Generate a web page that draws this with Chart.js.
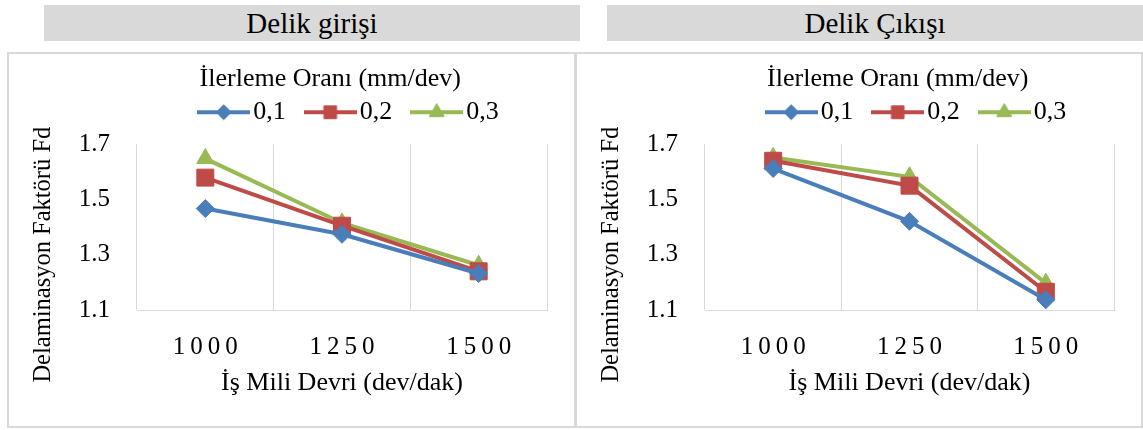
<!DOCTYPE html>
<html lang="tr">
<head>
<meta charset="UTF-8">
<title>Delaminasyon Faktörü</title>
<script src="https://cdn.jsdelivr.net/npm/chart.js@4"></script>
<style>
    body { margin: 0; background: #fff; font-family: "Liberation Serif", serif; }
    .baslik { position: absolute; top: 5px; width: 536px; height: 36px; background: #d9d9d9;
              text-align: center; font-size: 29px; line-height: 36px; color: #000; }
    .panel { position: absolute; top: 52px; height: 376px; border: 2px solid #d9d9d9; box-sizing: border-box; }
    .panel div { position: relative; width: 100%; height: 100%; }
</style>
</head>
<body>

<div class="baslik" style="left:44px">Delik girişi</div>
<div class="baslik" style="left:607px">Delik Çıkışı</div>
<div class="panel" style="left:7px; width:569px"><div><canvas id="giris"></canvas></div></div>
<div class="panel" style="left:575px; width:568px"><div><canvas id="cikis"></canvas></div></div>

<script>

    const devirler = ['1000', '1250', '1500'];
    const ilerlemeler = ['0,1', '0,2', '0,3'];

    // Delik girişi
    const girisF01 = [1.467, 1.374, 1.232];
    const girisF02 = [1.579, 1.405, 1.240];
    const girisF03 = [1.648, 1.415, 1.262];

    // Delik çıkışı
    const cikisF01 = [1.612, 1.421, 1.137];
    const cikisF02 = [1.640, 1.550, 1.166];
    const cikisF03 = [1.652, 1.582, 1.197];

    const yTikler = [1.1, 1.3, 1.5, 1.7];

    const renkler = ['#4a7ebb', '#be4b48', '#98b954'];
    const isaretler = ['rectRot', 'rect', 'triangle'];
    const isaretBoyu = [9, 12, 10];
    const legendBoyu = [7.5, 9, 8.7];

    const yazi = "'Liberation Serif', serif";
    const bosluk = n => '\u00a0'.repeat(n);

    // legend icon: short line with the marker in the middle
    function legendResmi(i) {
        const c = document.createElement('canvas');
        c.width = 53; c.height = 20;
        const g = c.getContext('2d');
        g.strokeStyle = renkler[i];
        g.fillStyle = renkler[i];
        g.lineWidth = 4;
        g.beginPath();
        g.moveTo(0, 10);
        g.lineTo(53, 10);
        g.stroke();
        g.lineWidth = 1;
        Chart.helpers.drawPoint(g, {pointStyle: isaretler[i], radius: legendBoyu[i], borderWidth: 1, rotation: 0}, 26.5, 10);
        return c;
    }

    // move the legend box (Excel placed it freely)
    const legendKaydir = {
        id: 'legendKaydir',
        afterLayout(chart) {
            const l = chart.legend;
            l.left += 72; l.right += 72;
            l.top -= 9; l.bottom -= 9;
        }
    };

    function grafikCiz(id, seriler) {
        const resimler = [0, 1, 2].map(legendResmi);
        new Chart(id, {
            type: 'line',
            data: {
                labels: devirler,
                datasets: seriler.map((s, i) => ({
                    label: ilerlemeler[i],
                    data: s,
                    borderColor: renkler[i],
                    backgroundColor: renkler[i],
                    borderWidth: 4,
                    pointStyle: isaretler[i],
                    pointRadius: isaretBoyu[i],
                    pointBorderWidth: 1,
                    tension: 0
                }))
            },
            options: {
                responsive: true,
                maintainAspectRatio: false,
                animation: false,
                layout: {padding: {left: 6, right: 27, top: 11, bottom: 0}},
                plugins: {
                    tooltip: {enabled: false},
                    legend: {
                        position: 'top',
                        title: {
                            display: true,
                            text: 'İlerleme Oranı (mm/dev)' + bosluk(7),
                            color: '#000',
                            font: {family: yazi, size: 26},
                            padding: {top: 10, bottom: -26}
                        },
                        labels: {
                            color: '#000',
                            font: {family: yazi, size: 26},
                            usePointStyle: true,
                            pointStyleWidth: 33,
                            padding: 28,
                            generateLabels: chart => {
                                const items = Chart.defaults.plugins.legend.labels.generateLabels(chart);
                                items.forEach((it, i) => { it.pointStyle = resimler[i]; });
                                return items;
                            }
                        }
                    }
                },
                scales: {
                    x: {
                        offset: true,
                        grid: {color: '#d9d9d9', drawTicks: false, offset: true},
                        border: {color: '#d9d9d9'},
                        ticks: {
                            color: '#000',
                            font: {family: yazi, size: 25},
                            padding: 22,
                            callback: (v, i) => devirler[i].split('').join('\u2009')
                        },
                        title: {
                            display: true,
                            text: 'İş Mili Devri (dev/dak)',
                            color: '#000',
                            font: {family: yazi, size: 26},
                            padding: {top: 0, bottom: 27}
                        },
                        afterFit: s => { s.height = 116; }
                    },
                    y: {
                        min: yTikler[0],
                        max: yTikler[yTikler.length - 1],
                        grid: {display: false},
                        border: {display: false},
                        ticks: {
                            stepSize: 0.2,
                            color: '#000',
                            font: {family: yazi, size: 25},
                            padding: 19,
                            callback: v => v.toFixed(1)
                        },
                        title: {
                            display: true,
                            text: 'Delaminasyon Faktörü Fd' + bosluk(9),
                            color: '#000',
                            font: {family: yazi, size: 24.5},
                            padding: {top: 14, bottom: 0}
                        },
                        afterFit: s => { s.width = 122; }
                    }
                }
            },
            plugins: [legendKaydir]
        });
    }

    document.fonts.load('26px "Liberation Serif"').then(() => {
        grafikCiz('giris', [girisF01, girisF02, girisF03]);
        grafikCiz('cikis', [cikisF01, cikisF02, cikisF03]);
    });

</script>

</body>
</html>
